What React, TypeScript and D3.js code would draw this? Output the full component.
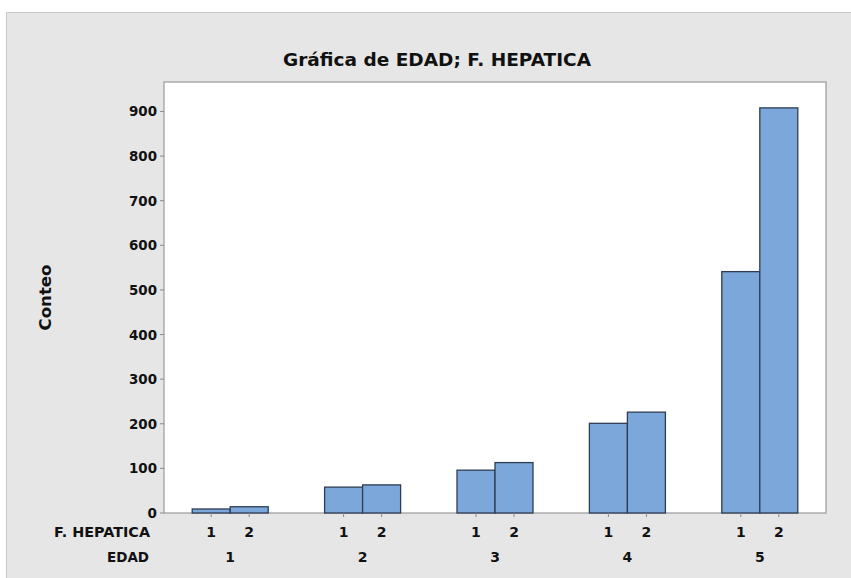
import React from "react";
import * as d3 from "d3";

const edadGroups = ["1", "2", "3", "4", "5"];
const hepaticaLevels = ["1", "2"];
const countsHepatica1 = [9, 58, 96, 201, 541];
const countsHepatica2 = [14, 63, 113, 226, 908];
const yTicks = [0, 100, 200, 300, 400, 500, 600, 700, 800, 900];

const W = 851;
const H = 578;
const plotLeft = 164;
const plotRight = 826;
const plotTop = 82;
const plotBottom = 513;

export default function App() {
  const y = d3.scaleLinear().domain([0, 966]).range([plotBottom, plotTop]);
  const xGroup = d3.scaleBand<string>().domain(edadGroups).range([plotLeft, plotRight]).paddingInner(0).paddingOuter(0);
  const xSub = d3.scaleBand<string>().domain(hepaticaLevels).range([0, xGroup.bandwidth()]).paddingInner(0).paddingOuter(0.742);

  const series = [countsHepatica1, countsHepatica2];
  const bars: { g: string; lvl: string; v: number }[] = [];
  edadGroups.forEach((g, i) => {
    hepaticaLevels.forEach((lvl, j) => {
      bars.push({ g, lvl, v: series[j][i] });
    });
  });

  const font = "'DejaVu Sans', sans-serif";

  return (
    <svg width={W} height={H} style={{ position: "absolute", left: 0, top: 0 }}>
      <rect x={0} y={0} width={W} height={H} fill="#ffffff" />
      <rect x={6.5} y={12.5} width={W} height={H} fill="#e6e6e6" stroke="#c8c8c8" strokeWidth={1} />
      <text
        x={437}
        y={66}
        textAnchor="middle"
        fontFamily={font}
        fontWeight="bold"
        fontSize={17}
        textLength={308}
        lengthAdjust="spacingAndGlyphs"
        fill="#111"
      >
        Gráfica de EDAD; F. HEPATICA
      </text>
      <rect x={plotLeft} y={plotTop} width={plotRight - plotLeft} height={plotBottom - plotTop} fill="#ffffff" stroke="#9a9a9a" strokeWidth={1.2} />
      {bars.map((b, i) => {
        const x0 = (xGroup(b.g) as number) + (xSub(b.lvl) as number);
        return (
          <rect
            key={i}
            x={x0}
            y={y(b.v)}
            width={xSub.bandwidth()}
            height={plotBottom - y(b.v)}
            fill="#7ba7da"
            stroke="#2e3d52"
            strokeWidth={1.3}
          />
        );
      })}
      {yTicks.map((t) => (
        <g key={t}>
          <line x1={plotLeft - 4} x2={plotLeft} y1={y(t)} y2={y(t)} stroke="#8a8a8a" />
          <text
            x={plotLeft - 7}
            y={y(t) + 5}
            textAnchor="end"
            fontFamily={font}
            fontWeight="bold"
            fontSize={13.5}
            textLength={t === 0 ? undefined : 28}
            lengthAdjust="spacingAndGlyphs"
            fill="#111"
          >
            {t}
          </text>
        </g>
      ))}
      {bars.map((b, i) => {
        const cx = (xGroup(b.g) as number) + (xSub(b.lvl) as number) + xSub.bandwidth() / 2;
        return (
          <g key={"t" + i}>
            <line x1={cx} x2={cx} y1={plotBottom} y2={plotBottom + 4} stroke="#8a8a8a" />
            <text x={cx} y={537} textAnchor="middle" fontFamily={font} fontWeight="bold" fontSize={14} fill="#111">
              {b.lvl}
            </text>
          </g>
        );
      })}
      {edadGroups.map((g) => (
        <text
          key={"g" + g}
          x={(xGroup(g) as number) + xGroup.bandwidth() / 2}
          y={562}
          textAnchor="middle"
          fontFamily={font}
          fontWeight="bold"
          fontSize={14}
          fill="#111"
        >
          {g}
        </text>
      ))}
      <text x={150} y={537} textAnchor="end" fontFamily={font} fontWeight="bold" fontSize={14} textLength={96} lengthAdjust="spacingAndGlyphs" fill="#111">
        F. HEPATICA
      </text>
      <text x={149} y={562} textAnchor="end" fontFamily={font} fontWeight="bold" fontSize={14} textLength={42} lengthAdjust="spacingAndGlyphs" fill="#111">
        EDAD
      </text>
      <text
        transform={`translate(51, ${(plotTop + plotBottom) / 2}) rotate(-90)`}
        textAnchor="middle"
        fontFamily={font}
        fontWeight="bold"
        fontSize={15}
        textLength={66}
        lengthAdjust="spacingAndGlyphs"
        fill="#111"
      >
        Conteo
      </text>
    </svg>
  );
}
